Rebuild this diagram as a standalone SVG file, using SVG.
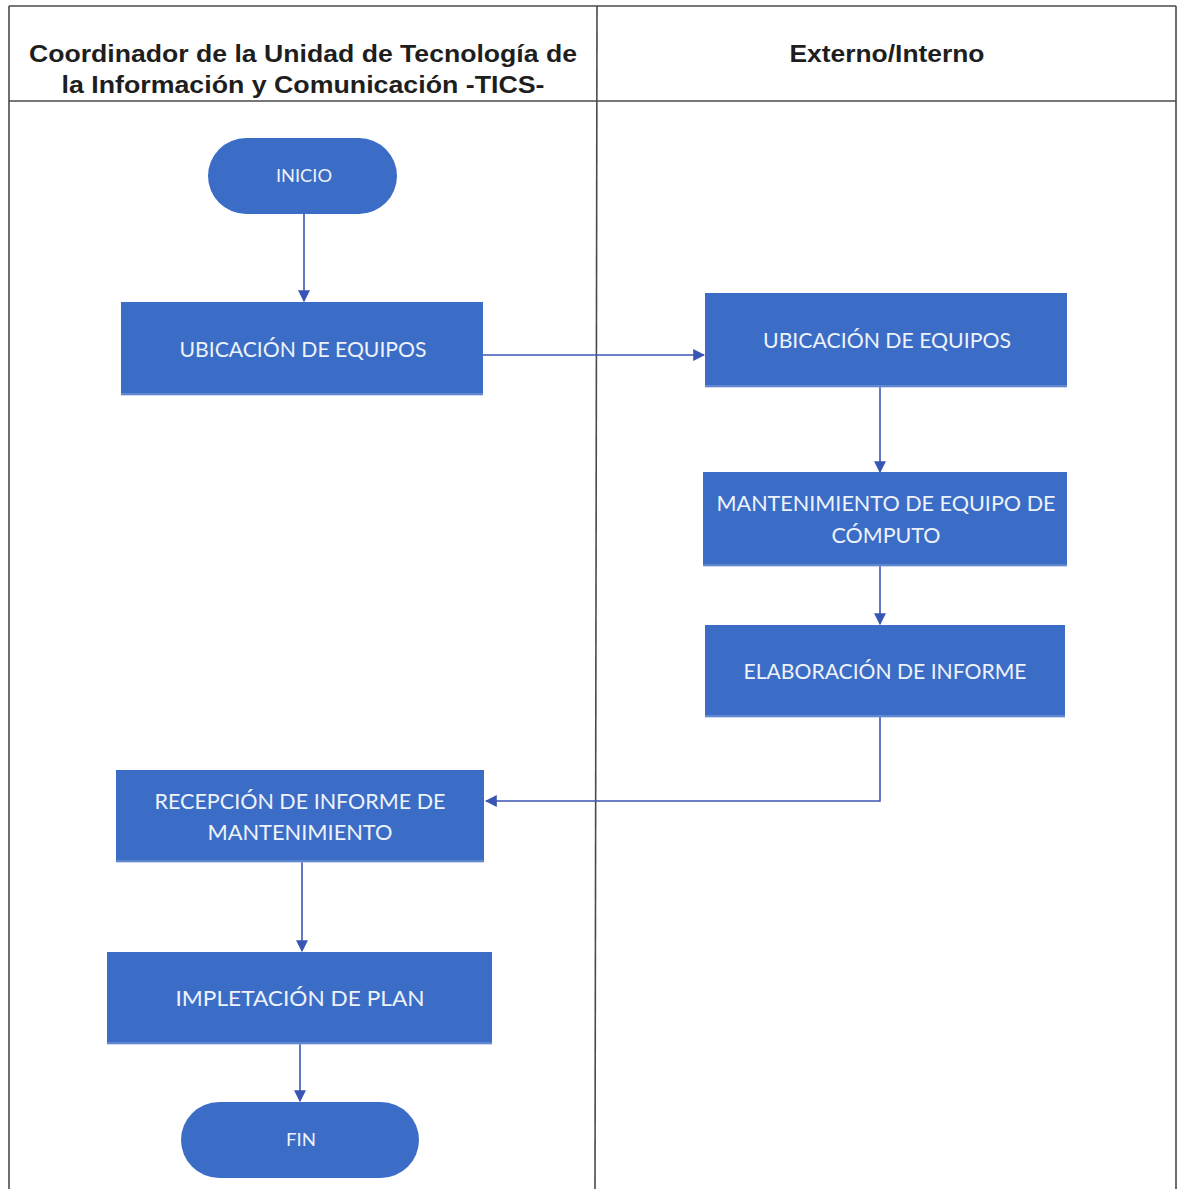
<svg xmlns="http://www.w3.org/2000/svg" width="1178" height="1189" viewBox="0 0 1178 1189">
  <style>
    .grid { stroke: #4a4a4a; stroke-width: 1.6; fill: none; }
    .hdr { font-family: "Liberation Sans", Arial, sans-serif; font-weight: bold; font-size: 24px; fill: #1e1e1e; text-anchor: middle; }
    .box { fill: #3b6dc6; }
    .shade { fill: #8ea9dc; opacity: 0.45; }
    .lbl { font-family: Lato, "Open Sans", sans-serif; font-size: 21px; fill: #eef2fa; text-anchor: middle; }
    .lbl-s { font-family: Lato, "Open Sans", sans-serif; font-size: 17px; fill: #eef2fa; text-anchor: middle; }
    .conn { stroke: #3a56b4; stroke-width: 1.6; fill: none; }
  </style>
  <defs>
    <marker id="arrow" viewBox="0 0 10 10" refX="9" refY="5" markerWidth="12" markerHeight="12" markerUnits="userSpaceOnUse" orient="auto">
      <path d="M0,0 L10,5 L0,10 Z" fill="#3a56b4"/>
    </marker>
  </defs>

  <rect width="1178" height="1189" fill="#ffffff"/>

  <!-- swimlane table -->
  <g id="table">
    <line class="grid" x1="9" y1="6" x2="1176" y2="6"/>
    <line class="grid" x1="9" y1="6" x2="9" y2="1189"/>
    <line class="grid" x1="1176" y1="6" x2="1176" y2="1189"/>
    <line class="grid" x1="9" y1="101" x2="1176" y2="101"/>
    <line class="grid" x1="597" y1="6" x2="595" y2="1189"/>
    <text class="hdr" x="303" y="62" textLength="548" lengthAdjust="spacingAndGlyphs">Coordinador de la Unidad de Tecnología de</text>
    <text class="hdr" x="303" y="93" textLength="483" lengthAdjust="spacingAndGlyphs">la Información y Comunicación -TICS-</text>
    <text class="hdr" x="887" y="62" textLength="195" lengthAdjust="spacingAndGlyphs">Externo/Interno</text>
  </g>

  <!-- connectors -->
  <g id="connectors">
    <line class="conn" x1="304" y1="214" x2="304" y2="301" marker-end="url(#arrow)"/>
    <line class="conn" x1="483" y1="355" x2="704" y2="355" marker-end="url(#arrow)"/>
    <line class="conn" x1="880" y1="387" x2="880" y2="472" marker-end="url(#arrow)"/>
    <line class="conn" x1="880" y1="566" x2="880" y2="624" marker-end="url(#arrow)"/>
    <polyline class="conn" points="880,717 880,801 486,801" marker-end="url(#arrow)"/>
    <line class="conn" x1="302" y1="862" x2="302" y2="951" marker-end="url(#arrow)"/>
    <line class="conn" x1="300" y1="1044" x2="300" y2="1101" marker-end="url(#arrow)"/>
  </g>

  <!-- nodes -->
  <g id="inicio">
    <rect class="box" x="208" y="138" width="189" height="76" rx="38" ry="38"/>
    <text class="lbl-s" x="304" y="182" textLength="56" lengthAdjust="spacingAndGlyphs">INICIO</text>
  </g>

  <g id="ubicacion-coord">
    <rect class="box" x="121" y="302" width="362" height="93"/>
    <rect class="shade" x="121" y="393" width="362" height="3"/>
    <text class="lbl" x="303" y="357" textLength="247" lengthAdjust="spacingAndGlyphs">UBICACIÓN DE EQUIPOS</text>
  </g>

  <g id="ubicacion-ext">
    <rect class="box" x="705" y="293" width="362" height="94"/>
    <rect class="shade" x="705" y="385" width="362" height="3"/>
    <text class="lbl" x="887" y="348" textLength="248" lengthAdjust="spacingAndGlyphs">UBICACIÓN DE EQUIPOS</text>
  </g>

  <g id="mantenimiento">
    <rect class="box" x="703" y="472" width="364" height="94"/>
    <rect class="shade" x="703" y="564" width="364" height="3"/>
    <text class="lbl" x="886" y="511" textLength="339" lengthAdjust="spacingAndGlyphs">MANTENIMIENTO DE EQUIPO DE</text>
    <text class="lbl" x="886" y="543" textLength="109" lengthAdjust="spacingAndGlyphs">CÓMPUTO</text>
  </g>

  <g id="elaboracion">
    <rect class="box" x="705" y="625" width="360" height="92"/>
    <rect class="shade" x="705" y="715" width="360" height="3"/>
    <text class="lbl" x="885" y="679" textLength="283" lengthAdjust="spacingAndGlyphs">ELABORACIÓN DE INFORME</text>
  </g>

  <g id="recepcion">
    <rect class="box" x="116" y="770" width="368" height="92"/>
    <rect class="shade" x="116" y="860" width="368" height="3"/>
    <text class="lbl" x="300" y="809" textLength="291" lengthAdjust="spacingAndGlyphs">RECEPCIÓN DE INFORME DE</text>
    <text class="lbl" x="300" y="840" textLength="185" lengthAdjust="spacingAndGlyphs">MANTENIMIENTO</text>
  </g>

  <g id="implementacion">
    <rect class="box" x="107" y="952" width="385" height="92"/>
    <rect class="shade" x="107" y="1042" width="385" height="3"/>
    <text class="lbl" x="300" y="1006" textLength="249" lengthAdjust="spacingAndGlyphs">IMPLETACIÓN DE PLAN</text>
  </g>

  <g id="fin">
    <rect class="box" x="181" y="1102" width="238" height="76" rx="38" ry="38"/>
    <text class="lbl-s" x="301" y="1146" textLength="30" lengthAdjust="spacingAndGlyphs">FIN</text>
  </g>
</svg>
